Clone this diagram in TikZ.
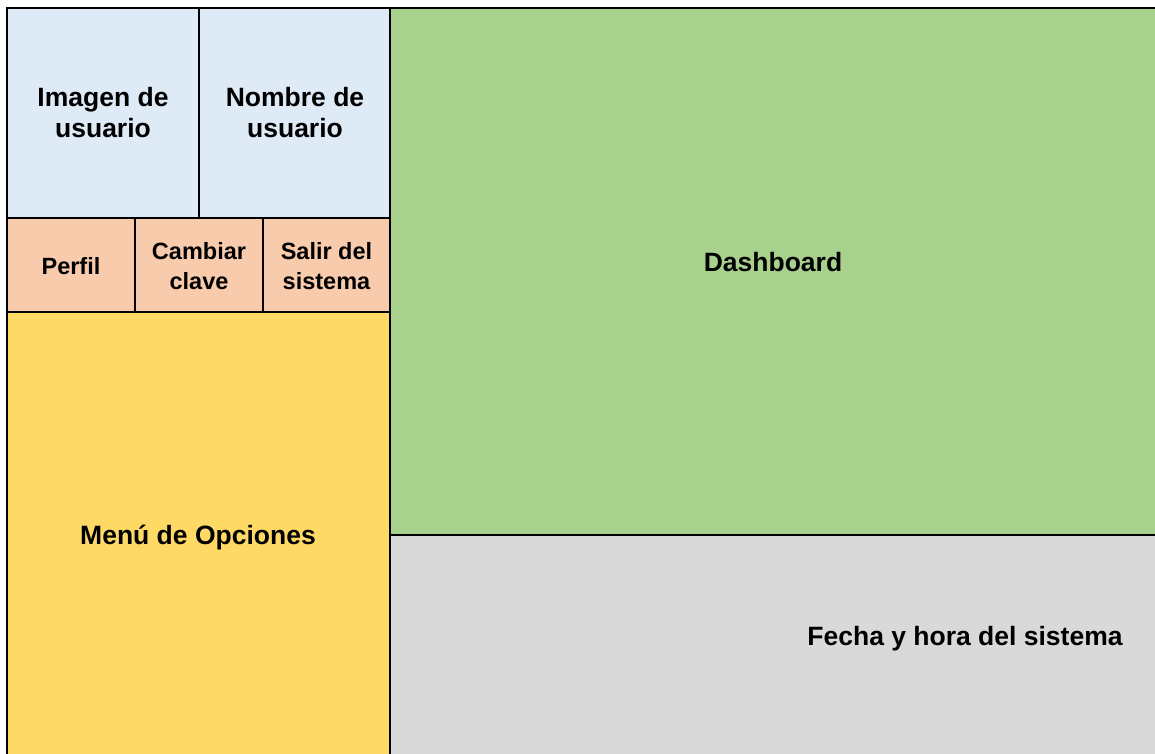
\documentclass[tikz,border=0pt]{standalone}
\usepackage{fontspec}
\setmainfont{Liberation Sans}
\definecolor{usuarioazul}{HTML}{DEEAF6}
\definecolor{accionnaranja}{HTML}{F8CBAD}
\definecolor{menuamarillo}{HTML}{FFD966}
\definecolor{tableroverde}{HTML}{A9D18E}
\definecolor{fechagris}{HTML}{D9D9D9}
\begin{document}
\begin{tikzpicture}[x=1pt,y=-1pt,
    caja/.style={draw=black,line width=2.8pt},
    rotulo/.style={font=\bfseries\fontsize{26.5}{31}\selectfont,align=center},
    rotulochico/.style={font=\bfseries\fontsize{23.5}{30}\selectfont,align=center}]
    \useasboundingbox (0,0) rectangle (1155,753);
    \fill[white] (0,0) rectangle (1155,753);
    \clip (0,0) rectangle (1155,753);
    % columna izquierda
    \draw[caja,fill=usuarioazul] (7,8) rectangle (199,218);
    \draw[caja,fill=usuarioazul] (199,8) rectangle (390,218);
    \draw[caja,fill=accionnaranja] (7,218) rectangle (135,312);
    \draw[caja,fill=accionnaranja] (135,218) rectangle (263,312);
    \draw[caja,fill=accionnaranja] (263,218) rectangle (390,312);
    \draw[caja,fill=menuamarillo] (7,312) rectangle (390,770);
    % zona derecha
    \draw[caja,fill=tableroverde] (390,8) rectangle (1170,535);
    \draw[caja,fill=fechagris] (390,535) rectangle (1170,770);

    \node[rotulo] (imagen) at (103,113) {Imagen de\\usuario};
    \node[rotulo] (nombre) at (295,113) {Nombre de\\usuario};
    \node[rotulochico] (perfil) at (71,266) {Perfil};
    \node[rotulochico] (clave) at (199,266) {Cambiar\\clave};
    \node[rotulochico] (salir) at (326.5,266) {Salir del\\sistema};
    \node[rotulo] (menu) at (198,538) {Menú de Opciones};
    \node[rotulo] (dashboard) at (773,262) {Dashboard};
    \node[rotulo] (fecha) at (965,639) {Fecha y hora del sistema};
\end{tikzpicture}
\end{document}
